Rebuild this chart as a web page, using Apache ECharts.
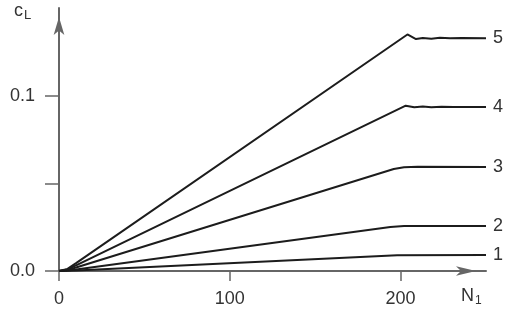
<!DOCTYPE html>
<html>
<head>
<meta charset="utf-8">
<script src="https://cdn.jsdelivr.net/npm/echarts@6/dist/echarts.min.js"></script>
<style>
  html, body { margin: 0; padding: 0; background: #fff; }
  #chart { width: 507px; height: 320px; }
</style>
</head>
<body>
<div id="chart"></div>
<script>
// Lift coefficient c_L against N_1 for five cases, each as [N_1, c_L] pairs
const curve1 = [[0, 0], [5, 0.0001], [10, 0.0003], [198, 0.0090], [250, 0.0091]];
const curve2 = [[0, 0], [5, 0.0003], [10, 0.0009], [194, 0.0251], [202, 0.0257], [250, 0.0257]];
const curve3 = [[0, 0], [5, 0.0006], [10, 0.0020], [196, 0.0582], [202, 0.0592], [210, 0.0594], [250, 0.0593]];
const curve4 = [[0, 0], [5, 0.0009], [10, 0.0032], [203, 0.0943], [208, 0.0934], [213, 0.0938],
                [218, 0.0934], [224, 0.0937], [231, 0.0935], [250, 0.0936]];
const curve5 = [[0, 0], [5, 0.0012], [10, 0.0045], [204, 0.1349], [209, 0.1323], [213, 0.1329],
                [218, 0.1325], [223, 0.1330], [229, 0.1327], [236, 0.1329], [250, 0.1328]];

const curveNames = ['1', '2', '3', '4', '5'];
const curves = [curve1, curve2, curve3, curve4, curve5];

const xTicks = [0, 100, 200];
const yTicks = [0, 0.05, 0.1];
const yLabelValues = [0, 0.1];

const axisColor = '#666';
const textColor = '#333';
const font = 'Liberation Sans, Arial, sans-serif';

const chart = echarts.init(document.getElementById('chart'), null, { renderer: 'canvas' });

chart.setOption({
  animation: false,
  backgroundColor: '#fff',
  grid: { left: 59, right: 21, top: 8, bottom: 49, containLabel: false },
  xAxis: {
    type: 'value',
    min: 0,
    max: 250,
    interval: 100,
    axisLine: {
      show: true,
      lineStyle: { color: axisColor, width: 2 },
      symbol: ['none', 'arrow'],
      symbolSize: [7, 20],
      symbolOffset: [0, -10]
    },
    axisTick: { show: true, customValues: xTicks, length: 10, lineStyle: { color: axisColor, width: 1.5 } },
    axisLabel: {
      customValues: xTicks,
      margin: 19,
      color: textColor,
      fontSize: 18,
      fontFamily: font
    },
    splitLine: { show: false }
  },
  yAxis: {
    type: 'value',
    min: 0,
    max: 0.15,
    interval: 0.05,
    axisLine: {
      show: true,
      lineStyle: { color: axisColor, width: 2 },
      symbol: ['none', 'arrow'],
      symbolSize: [8, 18],
      symbolOffset: [0, -9]
    },
    axisTick: { show: true, customValues: yTicks, length: 14, lineStyle: { color: axisColor, width: 1.5 } },
    axisLabel: {
      customValues: yLabelValues,
      margin: 24,
      color: textColor,
      fontSize: 18,
      fontFamily: font,
      formatter: v => v.toFixed(1)
    },
    splitLine: { show: false }
  },
  graphic: [
    {
      type: 'text',
      left: 14,
      top: 2,
      style: {
        text: '{m|c}{s|L}',
        rich: {
          m: { fontSize: 18, fontFamily: font, fill: textColor },
          s: { fontSize: 13, fontFamily: font, fill: textColor, padding: [8, 0, 0, 1] }
        }
      }
    },
    {
      type: 'text',
      left: 461,
      top: 287,
      style: {
        text: '{m|N}{s|1}',
        rich: {
          m: { fontSize: 18, fontFamily: font, fill: textColor },
          s: { fontSize: 12, fontFamily: font, fill: textColor, padding: [10, 0, 0, 1] }
        }
      }
    }
  ],
  series: curves.map((data, i) => ({
    name: curveNames[i],
    type: 'line',
    data: data,
    showSymbol: false,
    symbol: 'none',
    smooth: false,
    clip: false,
    lineStyle: { color: '#1c1c1c', width: 2 },
    endLabel: {
      show: true,
      formatter: '{a}',
      distance: 7,
      color: textColor,
      fontSize: 18,
      fontFamily: font
    }
  }))
});
</script>
</body>
</html>
